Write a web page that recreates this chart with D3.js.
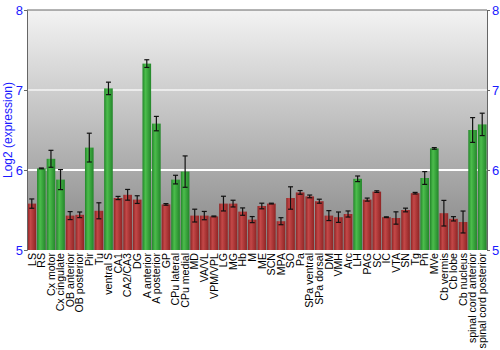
<!DOCTYPE html>
<html>
<head>
<meta charset="utf-8">
<script src="https://cdn.jsdelivr.net/npm/d3@7"></script>
<style>
  body { margin: 0; background: #fff; }
  text { font-family: "Liberation Sans", Arial, sans-serif; }
</style>
</head>
<body>
<div id="chart"></div>
<script>
// regions
const regions = ["LS", "RS", "Cx motor", "Cx cingulate", "OB anterior", "OB posterior", "Pir", "Tu",
  "ventral S", "CA1", "CA2/CA3", "DG", "A anterior", "A posterior", "GP", "CPu lateral", "CPu medial",
  "MD", "VA/VL", "VPM/VPL", "LG", "MG", "Hb", "M", "ME", "SCN", "MPA", "SO", "Pa", "SPa ventral",
  "SPa dorsal", "DM", "VMH", "Arc", "LH", "PAG", "SC", "IC", "VTA", "SN", "Tg", "Pn", "MVe",
  "Cb vermis", "Cb lobe", "Cb nucleus", "spinal cord anterior", "spinal cord posterior"];

// log2 expression
const values = [5.58, 6.02, 6.14, 5.88, 5.43, 5.44, 6.28, 5.49,
  7.02, 5.65, 5.69, 5.63, 7.33, 6.58, 5.57, 5.88, 5.98,
  5.43, 5.43, 5.42, 5.58, 5.58, 5.48, 5.38, 5.55, 5.58, 5.36, 5.65, 5.72, 5.67,
  5.61, 5.43, 5.41, 5.45, 5.89, 5.63, 5.73, 5.41, 5.40, 5.50, 5.71, 5.90, 6.27,
  5.46, 5.39, 5.35, 6.50, 6.57];

// standard error
const errors = [0.058, 0.005, 0.106, 0.125, 0.05, 0.035, 0.18, 0.10,
  0.078, 0.02, 0.067, 0.048, 0.048, 0.09, 0.01, 0.054, 0.196,
  0.08, 0.052, 0.005, 0.092, 0.042, 0.046, 0.038, 0.035, 0.005, 0.044, 0.14, 0.023, 0.017,
  0.025, 0.062, 0.065, 0.038, 0.035, 0.019, 0.01, 0.005, 0.077, 0.023, 0.01, 0.08, 0.01,
  0.16, 0.027, 0.137, 0.155, 0.14];

// high expression regions are green
const high = [0, 1, 1, 1, 0, 0, 1, 0, 1, 0, 0, 0, 1, 1, 0, 1, 1,
  0, 0, 0, 0, 0, 0, 0, 0, 0, 0, 0, 0, 0,
  0, 0, 0, 0, 1, 0, 0, 0, 0, 0, 0, 1, 1,
  0, 0, 0, 1, 1];

const yTicks = [5, 6, 7, 8];

const width = 500, height = 350;
const margin = { top: 10, right: 13, bottom: 100, left: 27 };
const plotW = width - margin.left - margin.right;
const plotH = height - margin.top - margin.bottom;

const svg = d3.select("#chart").append("svg")
  .attr("width", width)
  .attr("height", height);

const defs = svg.append("defs");

// background gradient
const bg = defs.append("linearGradient").attr("id", "bg")
  .attr("x1", 0).attr("y1", 0).attr("x2", 0).attr("y2", 1);
bg.append("stop").attr("offset", "0%").attr("stop-color", "#f3f3f3");
bg.append("stop").attr("offset", "100%").attr("stop-color", "#858585");

// bar gradients (cylinder look)
function barGrad(id, dark, light) {
  const g = defs.append("linearGradient").attr("id", id)
    .attr("x1", 0).attr("y1", 0).attr("x2", 1).attr("y2", 0);
  g.append("stop").attr("offset", "0%").attr("stop-color", dark);
  g.append("stop").attr("offset", "35%").attr("stop-color", light);
  g.append("stop").attr("offset", "100%").attr("stop-color", dark);
}
barGrad("red", "#8f2424", "#c44848");
barGrad("green", "#23862a", "#4cbd4c");

const g = svg.append("g").attr("transform", `translate(${margin.left},${margin.top})`);

const x = d3.scaleBand().domain(regions).range([0, plotW]).paddingInner(0.1).paddingOuter(0.05);
const y = d3.scaleLinear().domain([5, 8]).range([plotH, 0]);

g.append("rect")
  .attr("width", plotW)
  .attr("height", plotH)
  .attr("fill", "url(#bg)");

// grid lines
g.selectAll(".grid")
  .data(yTicks.filter((t) => t > 5 && t < 8))
  .enter().append("line")
  .attr("x1", 0).attr("x2", plotW)
  .attr("y1", (d) => y(d)).attr("y2", (d) => y(d))
  .attr("stroke", "#fff")
  .attr("stroke-opacity", (d) => d === 7 ? 0.6 : 1)
  .attr("stroke-width", 2);

const data = regions.map((r, i) => ({ r, v: values[i], e: errors[i], hi: high[i] }));

g.selectAll(".bar")
  .data(data)
  .enter().append("rect")
  .attr("x", (d) => x(d.r))
  .attr("y", (d) => y(d.v))
  .attr("width", x.bandwidth())
  .attr("height", (d) => plotH - y(d.v))
  .attr("fill", (d) => d.hi ? "url(#green)" : "url(#red)");

// error bars
const err = g.selectAll(".err").data(data).enter().append("g")
  .attr("stroke", "#111")
  .attr("stroke-width", 1.2);
err.append("line")
  .attr("x1", (d) => x(d.r) + x.bandwidth() / 2)
  .attr("x2", (d) => x(d.r) + x.bandwidth() / 2)
  .attr("y1", (d) => y(d.v + d.e))
  .attr("y2", (d) => y(d.v - d.e));
err.selectAll(".cap")
  .data((d) => [d.v + d.e, d.v - d.e].map((v) => ({ r: d.r, v })))
  .enter().append("line")
  .attr("x1", (d) => x(d.r) + x.bandwidth() / 2 - 2.5)
  .attr("x2", (d) => x(d.r) + x.bandwidth() / 2 + 2.5)
  .attr("y1", (d) => y(d.v))
  .attr("y2", (d) => y(d.v));

// frame: top and sides
g.append("line").attr("x1", 0).attr("x2", plotW).attr("y1", 0).attr("y2", 0)
  .attr("stroke", "#666");

const yLeft = g.append("g").call(d3.axisLeft(y).tickValues(yTicks).tickSize(3).tickFormat(d3.format("d")));
const yRight = g.append("g").attr("transform", `translate(${plotW},0)`)
  .call(d3.axisRight(y).tickValues(yTicks).tickSize(3).tickFormat(d3.format("d")));
[yLeft, yRight].forEach((a) => {
  a.select(".domain").attr("stroke", "#666");
  a.selectAll(".tick line").attr("stroke", "#666");
  a.selectAll("text").attr("fill", "#1a1aff").attr("font-size", 13)
    .style("font-family", "Liberation Sans, Arial, sans-serif");
});
yLeft.selectAll("text").attr("x", -4);
yRight.selectAll("text").attr("x", 5);

// x labels
const xAxis = g.append("g").attr("transform", `translate(0,${plotH})`)
  .call(d3.axisBottom(x).tickSize(0));
xAxis.select(".domain").remove();
xAxis.selectAll("text")
  .attr("transform", "rotate(-90)")
  .attr("x", -3)
  .attr("y", 0)
  .attr("dy", "0.35em")
  .attr("text-anchor", "end")
  .attr("fill", "#000")
  .attr("font-size", 10.6)
  .style("font-family", "Liberation Sans, Arial, sans-serif");

svg.append("text")
  .attr("transform", `translate(12,${margin.top + plotH / 2}) rotate(-90)`)
  .attr("text-anchor", "middle")
  .attr("fill", "#1a1aff")
  .attr("font-size", 12)
  .text("Log2 (expression)");
</script>
</body>
</html>
